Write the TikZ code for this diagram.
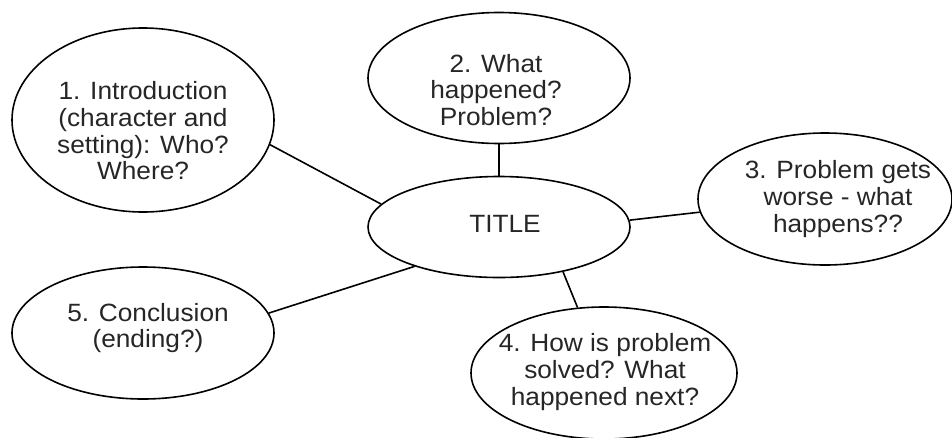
\documentclass[tikz,border=0pt]{standalone}
\usepackage{fontspec}
\setmainfont{Liberation Sans}[FakeStretch=1.05]
\usetikzlibrary{shapes.geometric}
\begin{document}
\begin{tikzpicture}[x=1pt,y=-1pt,
  bub/.style={ellipse, draw=black, line width=1.6pt, inner sep=0pt},
  txt/.style={align=center, inner sep=0pt, text=black!85,
    font=\fontsize{25}{26.7}\selectfont},
  link/.style={draw=black, line width=1.6pt}]
\useasboundingbox (0,0) rectangle (952,437);
\clip (0,0) rectangle (952,437);

% bubbles
\node[bub, minimum width=262pt, minimum height=184pt] (e1) at (143,120) {};
\node[bub, minimum width=262pt, minimum height=131pt] (e2) at (499,78) {};
\node[bub, minimum width=254pt, minimum height=132pt] (e3) at (825,199) {};
\node[bub, minimum width=262pt, minimum height=101pt] (tt) at (499,227) {};
\node[bub, minimum width=266pt, minimum height=132pt] (e4) at (604,373) {};
\node[bub, minimum width=262pt, minimum height=132pt] (e5) at (143,333) {};

% texts
\node[txt] (t1) at (143,131) {1. Introduction\\(character and\\setting): Who?\\Where?};
\node[txt] (t2) at (496,90) {2. What\\happened?\\Problem?};
\node[txt] (t3) at (838,199) {3. Problem gets\\worse - what\\happens??};
\node[txt] (tc) at (505,224) {TITLE};
\node[txt] (t4) at (605,372) {4. How is problem\\solved? What\\happened next?};
\node[txt] (t5) at (148,328) {5. Conclusion\\(ending?)};

% connectors
\draw[link] (e1.-11) -- (tt.169.5);
\draw[link] (e2.south) -- (tt.north);
\draw[link] (tt.3) -- (e3.186);
\draw[link] (tt.-35.7) -- (e4.112);
\draw[link] (e5.9.5) -- (tt.205);
\end{tikzpicture}
\end{document}
